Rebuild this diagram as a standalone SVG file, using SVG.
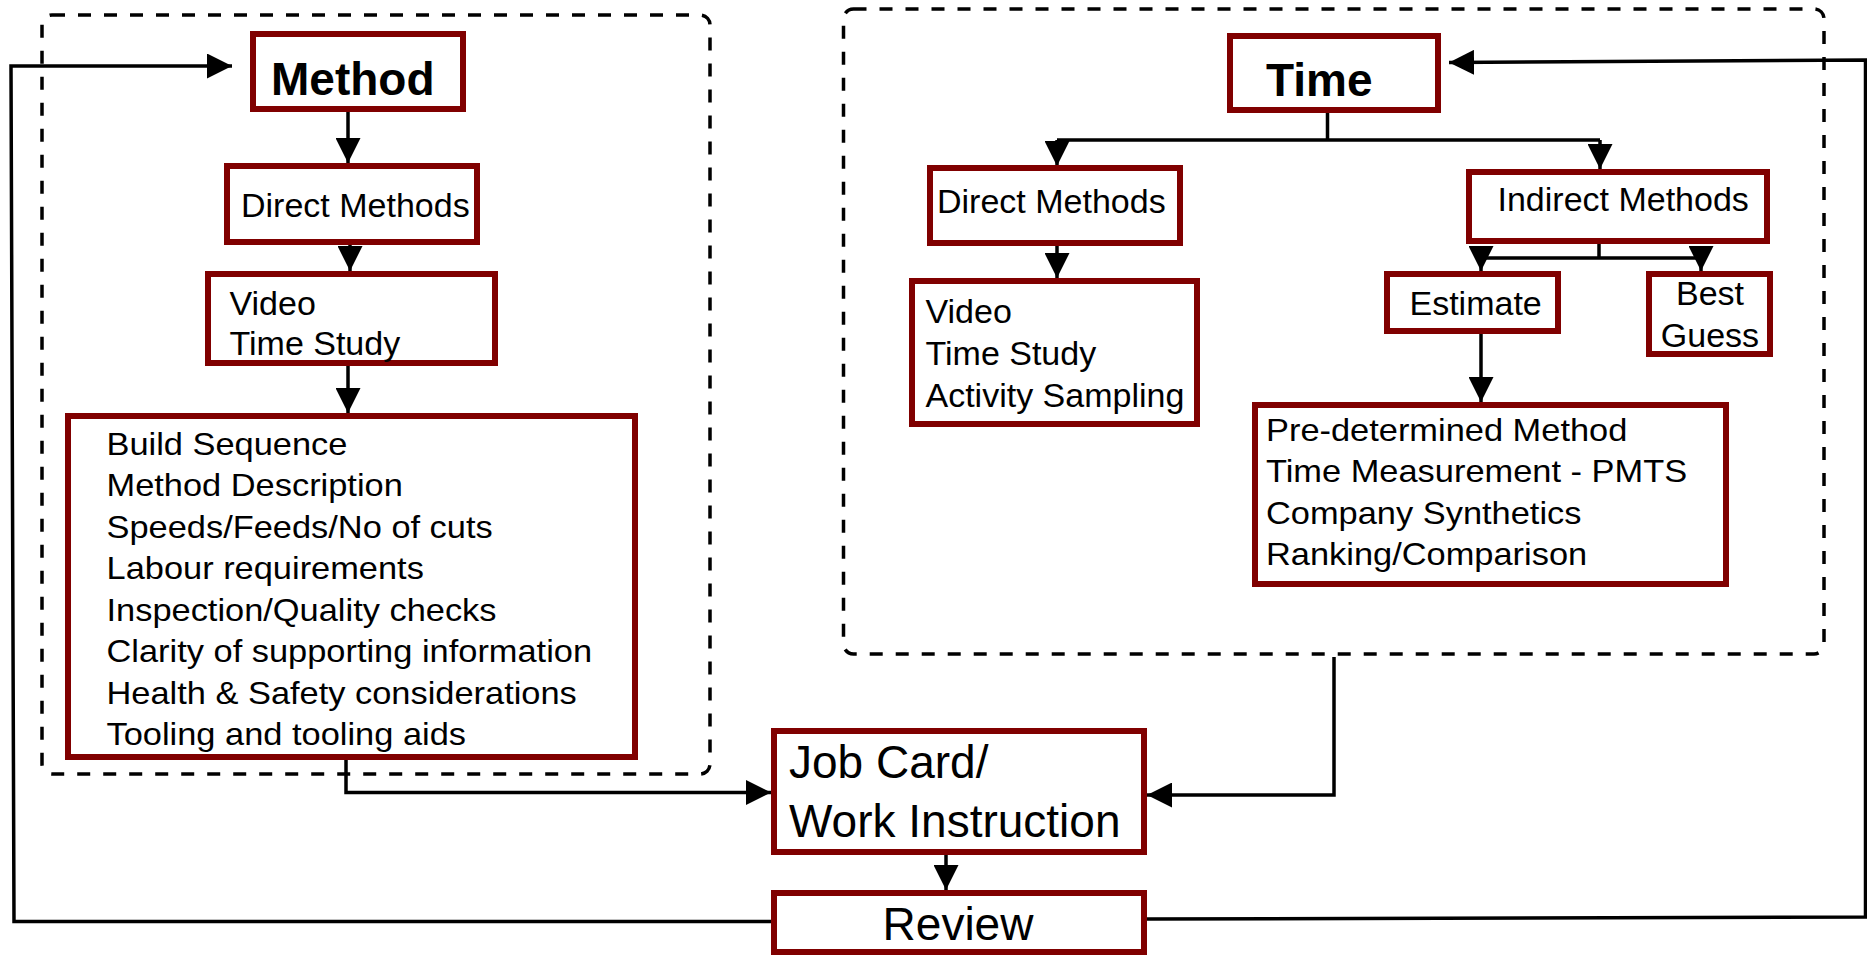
<svg xmlns="http://www.w3.org/2000/svg" width="1867" height="956" viewBox="0 0 1867 956">
  <defs>
    <marker id="arrow" viewBox="0 0 25 25" refX="25" refY="12.5" markerWidth="25" markerHeight="25" markerUnits="userSpaceOnUse" orient="auto">
      <path d="M0,0 L25,12.5 L0,25 Z" fill="#000"/>
    </marker>
    <style>
      .group { fill: none; stroke: #000; stroke-width: 3.5; stroke-dasharray: 13 13; }
      .box { fill: #fff; stroke: #800000; stroke-width: 6; }
      .wire { fill: none; stroke: #000; stroke-width: 3.5; }
      .arr { marker-end: url(#arrow); }
      text { font-family: "Liberation Sans", Arial, Helvetica, sans-serif; fill: #000; }
      .title { font-size: 46px; font-weight: bold; }
      .lbl { font-size: 34px; }
      .big { font-size: 46px; }
      .list { font-size: 31px; }
    </style>
  </defs>

  <rect width="1867" height="956" fill="#fff"/>

  <!-- grouping frames -->
  <rect class="group" x="42" y="15" width="668" height="759" rx="10"/>
  <rect class="group" x="843.5" y="9" width="980.5" height="645" rx="10"/>

  <!-- connectors -->
  <g id="connectors">
    <path class="wire arr" d="M348,112 V163"/>
    <path class="wire arr" d="M350,245 V271"/>
    <path class="wire arr" d="M348,366 V413"/>
    <path class="wire arr" d="M346,757 V792.5 H771"/>

    <path class="wire" d="M1327.5,113 V140 M1057,140 H1600"/>
    <path class="wire arr" d="M1057,140 V166"/>
    <path class="wire arr" d="M1600,140 V169"/>
    <path class="wire arr" d="M1057,246 V278"/>

    <path class="wire" d="M1599,244 V258 M1481,258 H1701"/>
    <path class="wire arr" d="M1481,258 V271"/>
    <path class="wire arr" d="M1701,258 V271"/>
    <path class="wire arr" d="M1481,334 V402"/>

    <path class="wire arr" d="M1334,657 V795 H1147"/>
    <path class="wire arr" d="M946,855 V890"/>

    <path class="wire arr" d="M771,921.5 H14 L11,66 H232"/>
    <path class="wire arr" d="M1147,919 L1865.5,917 V60 L1449,62.5" stroke-width="4"/>
  </g>

  <!-- Method branch -->
  <g id="method">
    <rect class="box" x="253" y="34" width="210" height="75"/>
    <text class="title" x="271" y="95">Method</text>
  </g>
  <g id="method-direct">
    <rect class="box" x="227" y="166" width="250" height="76"/>
    <text class="lbl" x="241" y="217">Direct Methods</text>
  </g>
  <g id="method-direct-list">
    <rect class="box" x="208" y="274" width="287" height="89"/>
    <text class="lbl" x="229.5" y="315">Video</text>
    <text class="lbl" x="229.5" y="355">Time Study</text>
  </g>
  <g id="method-factors">
    <rect class="box" x="68" y="416" width="567" height="341"/>
    <g transform="translate(106.5,0) scale(1.11,1)">
      <text class="list" x="0" y="455">Build Sequence</text>
      <text class="list" x="0" y="496.5">Method Description</text>
      <text class="list" x="0" y="538">Speeds/Feeds/No of cuts</text>
      <text class="list" x="0" y="579.5">Labour requirements</text>
      <text class="list" x="0" y="621">Inspection/Quality checks</text>
      <text class="list" x="0" y="662.5">Clarity of supporting information</text>
      <text class="list" x="0" y="704">Health &amp; Safety considerations</text>
      <text class="list" x="0" y="745.5">Tooling and tooling aids</text>
    </g>
  </g>

  <!-- Time branch -->
  <g id="time">
    <rect class="box" x="1230" y="36" width="208" height="74"/>
    <text class="title" x="1266" y="96">Time</text>
  </g>
  <g id="time-direct">
    <rect class="box" x="930" y="168" width="250" height="75"/>
    <text class="lbl" x="937" y="212.5">Direct Methods</text>
  </g>
  <g id="time-direct-list">
    <rect class="box" x="912" y="281" width="285" height="143"/>
    <text class="lbl" x="925.5" y="323">Video</text>
    <text class="lbl" x="925.5" y="365">Time Study</text>
    <text class="lbl" x="925.5" y="406.5">Activity Sampling</text>
  </g>
  <g id="time-indirect">
    <rect class="box" x="1469" y="172" width="298" height="69"/>
    <text class="lbl" x="1497.5" y="210.5">Indirect Methods</text>
  </g>
  <g id="time-estimate">
    <rect class="box" x="1387" y="274" width="171" height="57"/>
    <text class="lbl" x="1409.5" y="315">Estimate</text>
  </g>
  <g id="time-best-guess">
    <rect class="box" x="1649" y="274" width="121" height="80"/>
    <text class="lbl" x="1710" y="305" text-anchor="middle">Best</text>
    <text class="lbl" x="1710" y="346.5" text-anchor="middle">Guess</text>
  </g>
  <g id="time-estimate-list">
    <rect class="box" x="1255" y="405" width="471" height="179"/>
    <g transform="translate(1266,0) scale(1.11,1)">
      <text class="list" x="0" y="441">Pre-determined Method</text>
      <text class="list" x="0" y="482.5">Time Measurement - PMTS</text>
      <text class="list" x="0" y="524">Company Synthetics</text>
      <text class="list" x="0" y="565.5">Ranking/Comparison</text>
    </g>
  </g>

  <!-- outputs -->
  <g id="job-card">
    <rect class="box" x="774" y="731" width="370" height="121"/>
    <text class="big" x="789" y="778">Job Card/</text>
    <text class="big" x="789" y="836.5">Work Instruction</text>
  </g>
  <g id="review">
    <rect class="box" x="774" y="893" width="370" height="59"/>
    <text class="big" x="958" y="940" text-anchor="middle">Review</text>
  </g>
</svg>
